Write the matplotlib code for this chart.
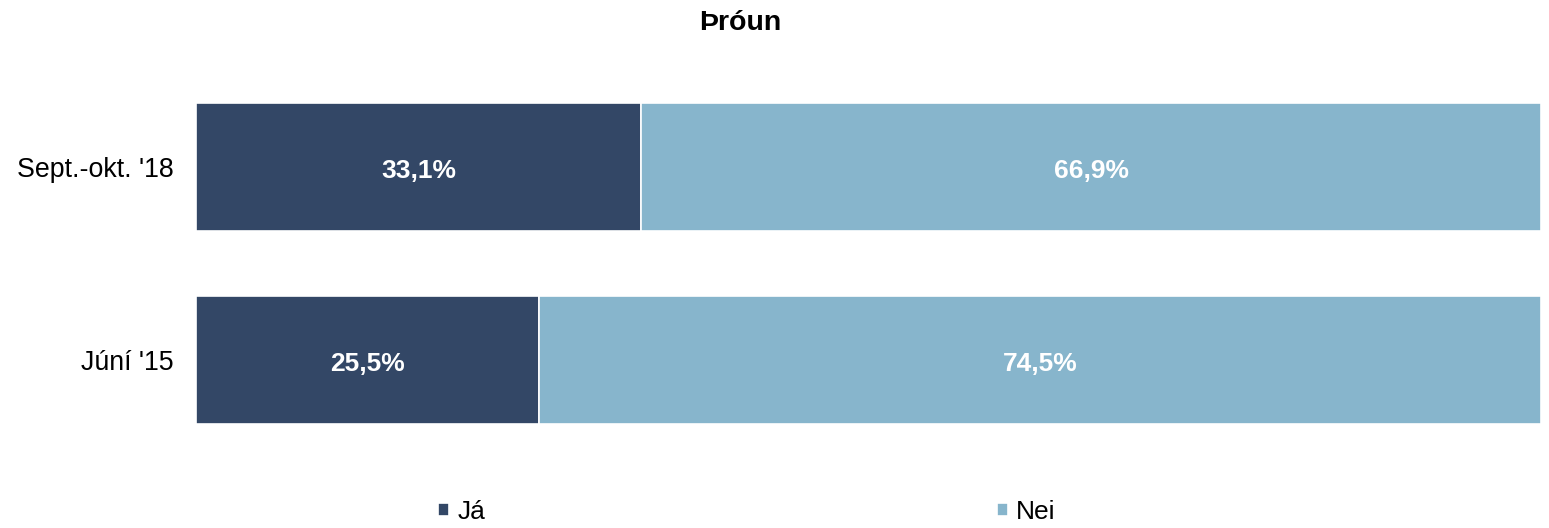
import matplotlib
matplotlib.use("Agg")
import matplotlib.pyplot as plt
import numpy as np

plt.rcParams['font.family'] = ['Liberation Sans', 'DejaVu Sans']

categories = ["Júní '15", "Sept.-okt. '18"]
ja = [25.5, 33.1]
nei = [74.5, 66.9]
series_names = ["Já", "Nei"]
colors = ["#334766", "#87B5CC"]
title = "Þróun"

W, H = 1549, 528
fig = plt.figure(figsize=(W / 100, H / 100), dpi=100)
ax = fig.add_axes([196 / W, 1 - 476 / H, (1541 - 196) / W, (476 - 51) / H])

y = np.arange(len(categories))
h = 0.665
b1 = ax.barh(y, ja, height=h, color=colors[0], edgecolor="white", linewidth=1.2, label=series_names[0])
b2 = ax.barh(y, nei, left=ja, height=h, color=colors[1], edgecolor="white", linewidth=1.2, label=series_names[1])

for bars, vals, lefts in [(b1, ja, [0] * len(ja)), (b2, nei, ja)]:
    for yi, v, l in zip(y, vals, lefts):
        ax.text(l + v / 2, yi - 0.02, f"{v:.1f}%".replace(".", ","), ha="center", va="center",
                color="white", fontsize=19, fontweight="bold")

ax.set_xlim(0, 100)
ax.set_ylim(-0.6, 1.6)
ax.set_yticks(y)
ax.set_yticklabels(categories, fontsize=19.3)
ax.tick_params(axis="y", length=0, pad=16)
ax.set_xticks([])
for s in ax.spines.values():
    s.set_visible(False)

fig.text(740 / W, 1 - 23 / H, title, ha="center", va="center", fontsize=20.5, fontweight="bold")

leg = fig.legend(handles=[b1, b2], labels=series_names, loc="center",
                 bbox_to_anchor=(747 / W, 1 - 512 / H), ncol=2, frameon=False,
                 fontsize=19, handlelength=0.42, handleheight=0.4, handletextpad=0.3,
                 columnspacing=19.4)

fig.savefig("out.png", dpi=100)
